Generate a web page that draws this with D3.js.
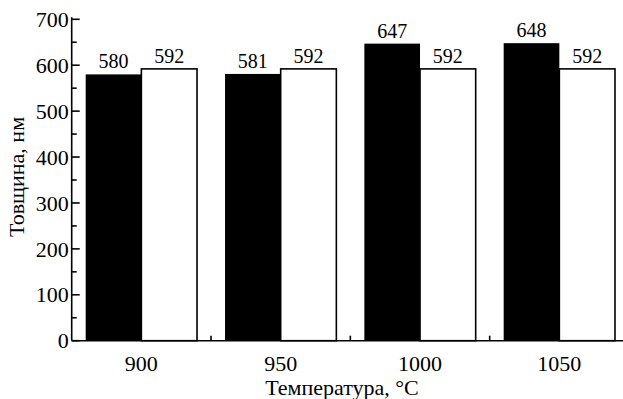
<!DOCTYPE html>
<html>
<head>
<meta charset="utf-8">
<script src="https://cdn.jsdelivr.net/npm/d3@7"></script>
<style>
  html, body { margin: 0; padding: 0; background: #fff; }
  svg { display: block; }
  text { font-family: "Liberation Serif", "Times New Roman", serif; fill: #000; }
</style>
</head>
<body>
<svg id="chart" width="623" height="399"></svg>
<script>
// Film thickness by annealing temperature
const temperatures = ["900", "950", "1000", "1050"];
const seriesA = [580, 581, 647, 648];   // black bars
const seriesB = [592, 592, 592, 592];   // white bars
const yTicks = [0, 100, 200, 300, 400, 500, 600, 700];
const yMinorTicks = [50, 150, 250, 350, 450, 550, 650];

const svg = d3.select("#chart");
const W = 623, H = 399;
const margin = { left: 71.7, top: 19.3, bottom: 58.3 };
const plotRight = 629;  // group layout continues past the page edge
const y0 = H - margin.bottom;

const x = d3.scaleBand().domain(temperatures).range([margin.left, plotRight]).paddingInner(0).paddingOuter(0);
const inner = d3.scaleBand().domain(["a", "b"]).range([14, x.bandwidth() - 14]).padding(0);
const y = d3.scaleLinear().domain([0, 700]).range([y0, margin.top]);

const rows = temperatures.map((t, i) => ({ t, a: seriesA[i], b: seriesB[i] }));

// bars
const g = svg.append("g");
rows.forEach(r => {
  g.append("rect")
    .attr("x", x(r.t) + inner("a"))
    .attr("y", y(r.a))
    .attr("width", inner.bandwidth())
    .attr("height", y(0) - y(r.a))
    .attr("fill", "#000");
  g.append("rect")
    .attr("x", x(r.t) + inner("b"))
    .attr("y", y(r.b))
    .attr("width", inner.bandwidth())
    .attr("height", y(0) - y(r.b))
    .attr("fill", "#fff")
    .attr("stroke", "#000")
    .attr("stroke-width", 1.6);
  [["a", r.a], ["b", r.b]].forEach(([k, v]) => {
    g.append("text")
      .attr("x", x(r.t) + inner(k) + inner.bandwidth() / 2)
      .attr("y", y(v) - 6)
      .attr("text-anchor", "middle")
      .attr("font-size", 20)
      .text(v);
  });
});

// y axis
const yAxis = svg.append("g");
yAxis.append("line")
  .attr("x1", margin.left).attr("x2", margin.left)
  .attr("y1", margin.top - 2).attr("y2", y0)
  .attr("stroke", "#000").attr("stroke-width", 1.6);
yTicks.forEach(v => {
  yAxis.append("line")
    .attr("x1", margin.left).attr("x2", margin.left + 8)
    .attr("y1", y(v)).attr("y2", y(v))
    .attr("stroke", "#000").attr("stroke-width", 1.6);
  yAxis.append("text")
    .attr("x", margin.left - 3)
    .attr("y", y(v))
    .attr("dy", "0.35em")
    .attr("text-anchor", "end")
    .attr("font-size", 22)
    .text(v);
});
yMinorTicks.forEach(v => {
  yAxis.append("line")
    .attr("x1", margin.left).attr("x2", margin.left + 5)
    .attr("y1", y(v)).attr("y2", y(v))
    .attr("stroke", "#000").attr("stroke-width", 1.6);
});

// x axis
const xAxis = svg.append("g");
xAxis.append("line")
  .attr("x1", margin.left).attr("x2", W)
  .attr("y1", y0).attr("y2", y0)
  .attr("stroke", "#000").attr("stroke-width", 1.6);
temperatures.slice(1).forEach(t => {
  xAxis.append("line")
    .attr("x1", x(t)).attr("x2", x(t))
    .attr("y1", y0).attr("y2", y0 - 5)
    .attr("stroke", "#000").attr("stroke-width", 1.6);
});
temperatures.forEach(t => {
  xAxis.append("text")
    .attr("x", x(t) + x.bandwidth() / 2)
    .attr("y", y0 + 30)
    .attr("text-anchor", "middle")
    .attr("font-size", 22)
    .text(t);
});

// axis titles
svg.append("text")
  .attr("x", 342).attr("y", 395)
  .attr("text-anchor", "middle")
  .attr("font-size", 22)
  .text("Температура, °C");
svg.append("text")
  .attr("transform", `translate(24, 177) rotate(-90)`)
  .attr("text-anchor", "middle")
  .attr("font-size", 22)
  .text("Товщина, нм");
</script>
</body>
</html>
